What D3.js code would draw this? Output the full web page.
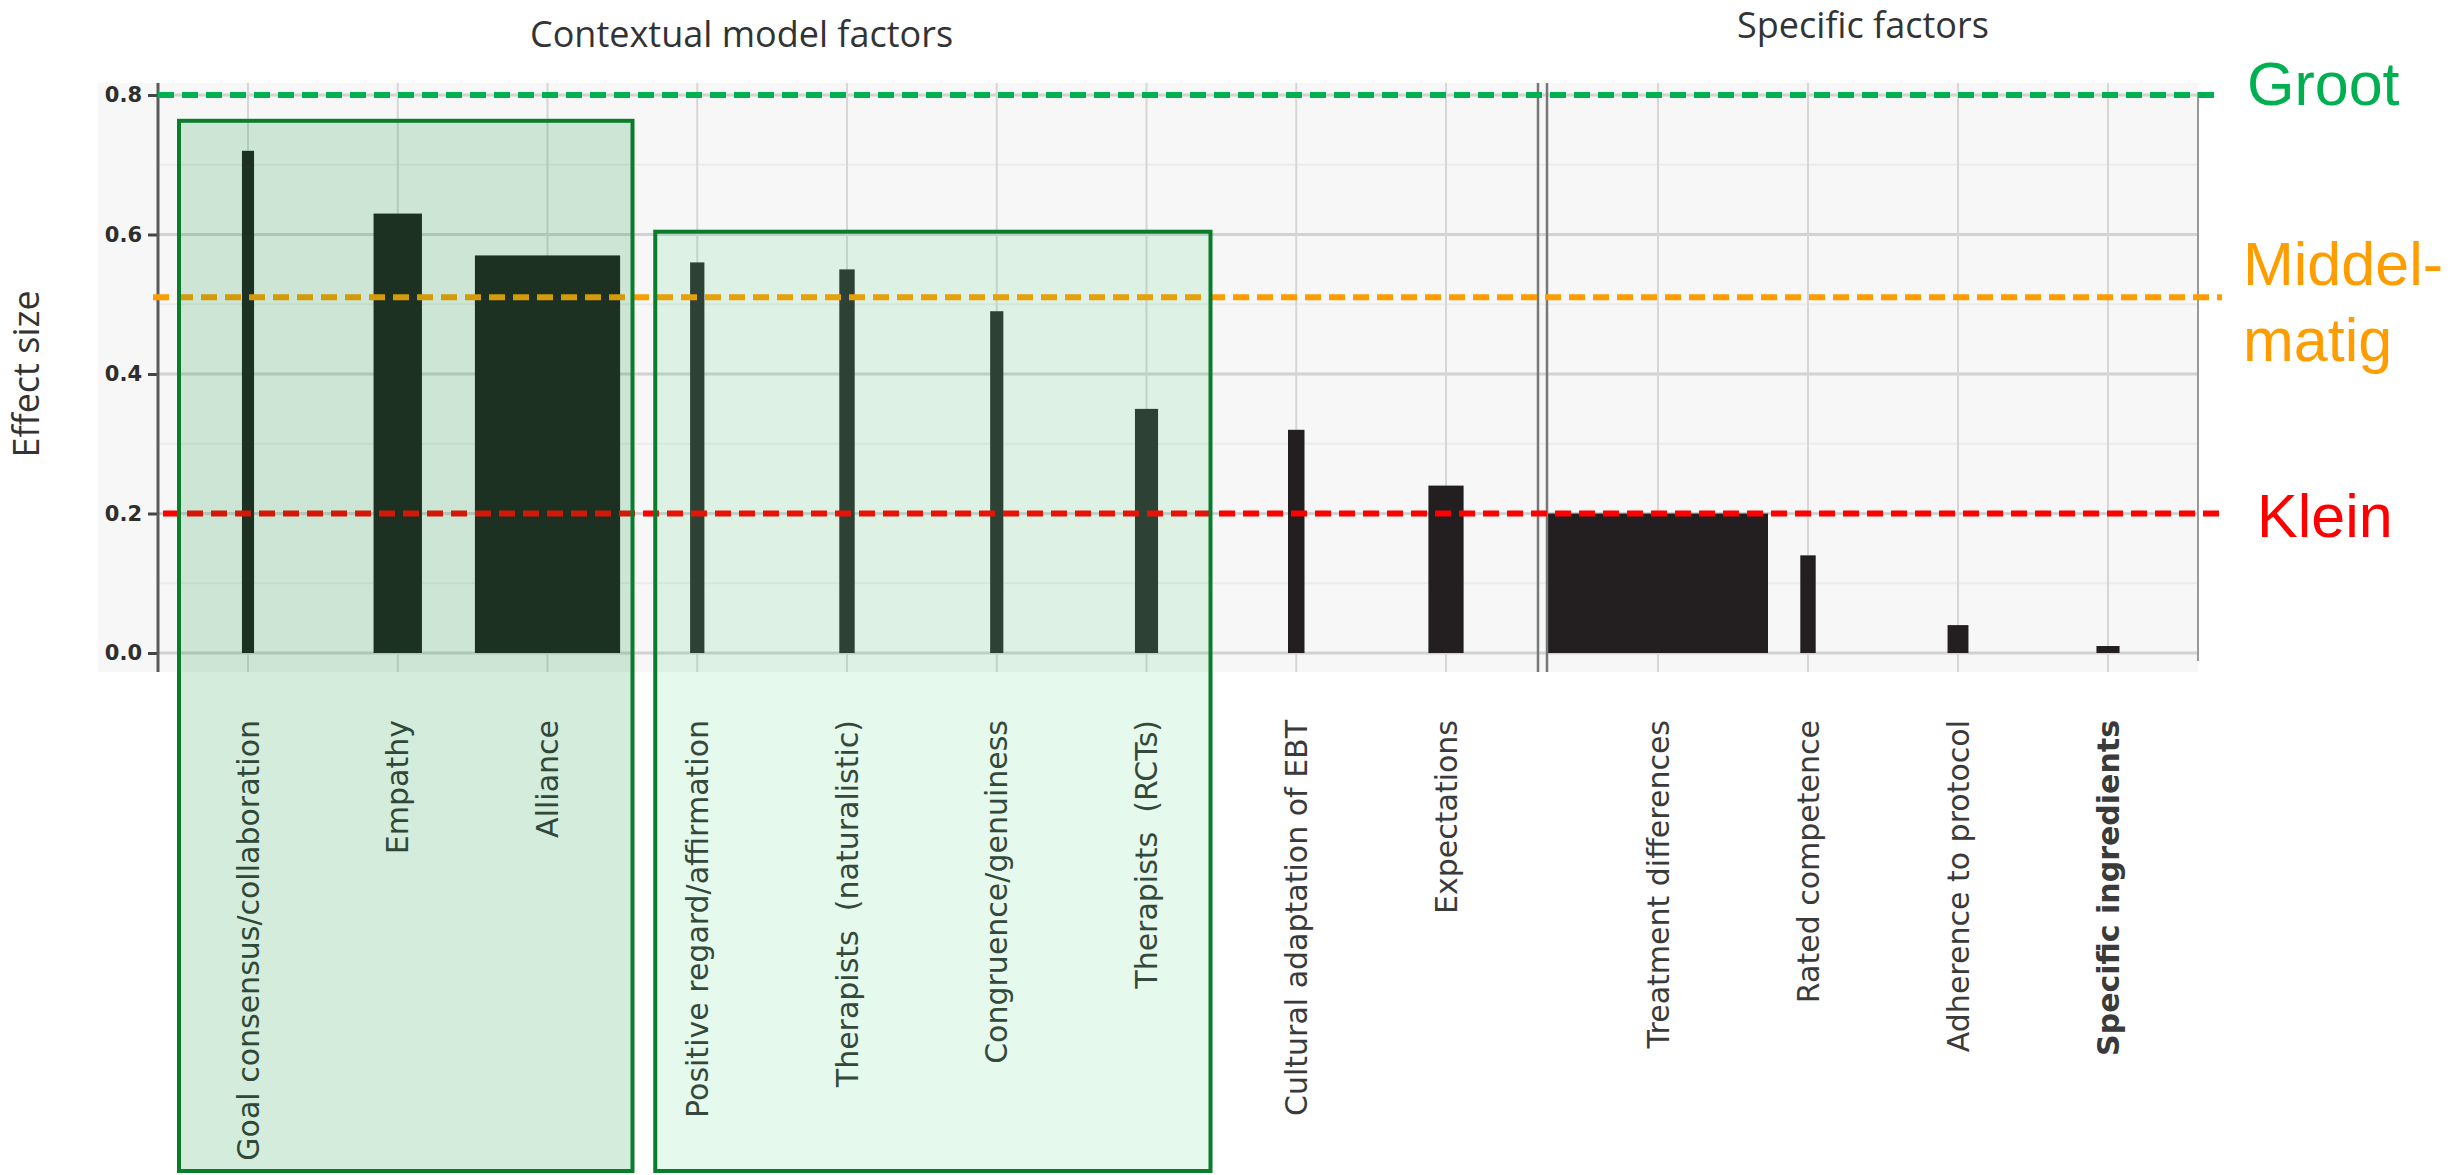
<html>
<head>
<meta charset="utf-8">
<style>
  body { margin: 0; background: #fff; }
  text { white-space: pre; }
  .tick-label { font-family: "DejaVu Sans", sans-serif; font-weight: bold; font-size: 21px; fill: #2e2e2e; }
  .cat-label { font-family: "DejaVu Sans", sans-serif; font-size: 30px; fill: #3a3a3a; }
  .title { font-family: "Open Sans", sans-serif; font-size: 36px; fill: #333; }
  .level { font-family: "Liberation Sans", Arial, sans-serif; font-size: 61px; }
</style>
<script src="https://cdn.jsdelivr.net/npm/d3@7"></script>
</head>
<body>
<svg id="chart"></svg>
<script>
// data
var contextualFactors = [
  "Goal consensus/collaboration", "Empathy", "Alliance",
  "Positive regard/affirmation", "Therapists  (naturalistic)", "Congruence/genuiness",
  "Therapists  (RCTs)", "Cultural adaptation of EBT", "Expectations"
];
var specificFactors = ["Treatment differences", "Rated competence", "Adherence to protocol", "Specific ingredients"];
var effectSizes = [0.72, 0.63, 0.57, 0.56, 0.55, 0.49, 0.35, 0.32, 0.24, 0.20, 0.14, 0.04, 0.01];
// relative bar weight (treatment differences = 100)
var barWeights = [5.5, 22, 66, 6.5, 7, 6, 10.5, 7.5, 16, 100, 7, 9.5, 10.5];
var yTicks = [0, 0.2, 0.4, 0.6, 0.8];
var yMinorTicks = [0.1, 0.3, 0.5, 0.7];
var levelValues = [0.8, 0.51, 0.2];
var levelLabels = [["Groot"], ["Middel-", "matig"], ["Klein"]];
var groupTitles = ["Contextual model factors", "Specific factors"];

var width = 2458, height = 1175;
var plot = { left: 158, right: 2198, top: 83, bottom: 672 };
var levelColors = ["#00b050", "#ff9d00", "#ff0000"];

var categories = contextualFactors.concat(specificFactors);
var bars = categories.map(function(name, i) {
  return { name: name, value: effectSizes[i], weight: barWeights[i], index: i };
});

var svg = d3.select("#chart").attr("width", width).attr("height", height);

var y = d3.scaleLinear().domain([0, 0.8]).range([653, 95]);
var xContext = d3.scalePoint().domain(contextualFactors).range([248, 1446]);
var xSpecific = d3.scalePoint().domain(specificFactors).range([1658, 2108]);
var barWidth = d3.scaleLinear().domain([0, 100]).range([0, 220]);

function x(name) {
  return contextualFactors.indexOf(name) >= 0 ? xContext(name) : xSpecific(name);
}

// boxes around groups of contextual factors
var boxes = [
  { first: 0, last: 2, padLeft: 69, padRight: 85, top: 0.763, fill: "rgba(0,140,50,0.17)" },
  { first: 3, last: 6, padLeft: 42, padRight: 64, top: 0.604, fill: "rgba(0,195,65,0.10)" }
];
function boxOf(i) {
  for (var b = 0; b < boxes.length; b++) if (i >= boxes[b].first && i <= boxes[b].last) return b;
  return -1;
}

// background of plot
svg.append("rect")
  .attr("x", 98).attr("y", plot.top)
  .attr("width", plot.right - 98).attr("height", plot.bottom - plot.top)
  .attr("fill", "#f7f7f7");

// grid
svg.append("g").selectAll("line").data(yMinorTicks).join("line")
  .attr("x1", plot.left).attr("x2", plot.right)
  .attr("y1", function(d) { return y(d); }).attr("y2", function(d) { return y(d); })
  .attr("stroke", "#ebebeb").attr("stroke-width", 2);

svg.append("g").selectAll("line").data(yTicks).join("line")
  .attr("x1", plot.left).attr("x2", plot.right)
  .attr("y1", function(d) { return y(d); }).attr("y2", function(d) { return y(d); })
  .attr("stroke", "#d2d2d2").attr("stroke-width", 3);

svg.append("g").selectAll("line").data(categories).join("line")
  .attr("x1", function(d) { return x(d); }).attr("x2", function(d) { return x(d); })
  .attr("y1", plot.top).attr("y2", plot.bottom)
  .attr("stroke", "#d6d6d6").attr("stroke-width", 2);

// bars
svg.append("g").selectAll("rect").data(bars).join("rect")
  .attr("x", function(d) { return x(d.name) - barWidth(d.weight) / 2; })
  .attr("width", function(d) { return barWidth(d.weight); })
  .attr("y", function(d) { return y(d.value); })
  .attr("height", function(d) { return y(0) - y(d.value); })
  .attr("fill", function(d) { return boxOf(d.index) === 1 ? "#333333" : "#231f20"; });

// y axis
var yAxis = d3.axisLeft(y).tickValues(yTicks).tickFormat(d3.format(".1f")).tickSize(10).tickPadding(6);
var axisG = svg.append("g").attr("transform", "translate(" + plot.left + ",0)").call(yAxis);
axisG.select(".domain").remove();
axisG.selectAll(".tick line").attr("stroke", "#444").attr("stroke-width", 3);
axisG.selectAll(".tick text").attr("class", "tick-label").attr("font-family", null).attr("font-size", null);
svg.append("line")
  .attr("x1", plot.left).attr("x2", plot.left)
  .attr("y1", plot.top).attr("y2", plot.bottom)
  .attr("stroke", "#5a5a5a").attr("stroke-width", 3);

// separator between groups and right border
[1538, 1547].forEach(function(sx) {
  svg.append("line")
    .attr("x1", sx).attr("x2", sx).attr("y1", plot.top).attr("y2", plot.bottom)
    .attr("stroke", "#777").attr("stroke-width", 2.5);
});
svg.append("line")
  .attr("x1", plot.right).attr("x2", plot.right).attr("y1", 92).attr("y2", 661)
  .attr("stroke", "#999").attr("stroke-width", 2);

// category labels
svg.append("g").selectAll("text").data(bars).join("text")
  .attr("class", "cat-label")
  .attr("transform", function(d) { return "translate(" + x(d.name) + ",720)rotate(-90)"; })
  .attr("text-anchor", "end")
  .attr("dy", "0.35em")
  .attr("font-weight", function(d) { return d.name === "Specific ingredients" ? "bold" : null; })
  .text(function(d) { return d.name; });

// axis title and group titles
svg.append("text")
  .attr("class", "title")
  .attr("font-size", 31)
  .attr("transform", "translate(39," + y(0.4) + ")rotate(-90)")
  .attr("text-anchor", "middle")
  .text("Effect size");

svg.append("text").attr("class", "title").attr("x", 530).attr("y", 47).text(groupTitles[0]);
svg.append("text").attr("class", "title").attr("x", 1737).attr("y", 38).text(groupTitles[1]);

// effect size levels
svg.append("g").selectAll("line").data(levelValues).join("line")
  .attr("x1", function(d, i) { return i === 1 ? 153 : (i === 2 ? 163 : plot.left); })
  .attr("x2", 2222)
  .attr("y1", function(d) { return y(d); }).attr("y2", function(d) { return y(d); })
  .attr("stroke", function(d, i) { return levelColors[i]; })
  .attr("stroke-width", 6)
  .attr("stroke-dasharray", "16,8");

// group boxes
svg.append("g").selectAll("rect").data(boxes).join("rect")
  .attr("x", function(d) { return x(categories[d.first]) - d.padLeft; })
  .attr("width", function(d) { return x(categories[d.last]) + d.padRight - (x(categories[d.first]) - d.padLeft); })
  .attr("y", function(d) { return y(d.top); })
  .attr("height", function(d) { return 1171 - y(d.top); })
  .attr("fill", function(d) { return d.fill; })
  .attr("stroke", "#0a7d2c").attr("stroke-width", 4);

// level labels
var levelOffsets = [10, -12, 23];
var levelX = [2247, 2243, 2257];
levelLabels.forEach(function(lines, i) {
  var t = svg.append("text")
    .attr("class", "level")
    .attr("fill", levelColors[i])
    .attr("x", levelX[i])
    .attr("y", y(levelValues[i]) + levelOffsets[i]);
  lines.forEach(function(line, j) {
    t.append("tspan").attr("x", levelX[i]).attr("dy", j === 0 ? 0 : 76).text(line);
  });
});
</script>
</body>
</html>
